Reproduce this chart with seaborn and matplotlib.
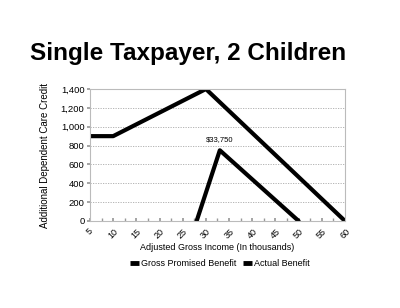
import pandas as pd
import numpy as np
import matplotlib
matplotlib.use("Agg")
import matplotlib.pyplot as plt
import seaborn as sns
from matplotlib.ticker import MultipleLocator, FuncFormatter
from matplotlib.lines import Line2D

# data (income in thousands, credit in dollars)
gross_x = [5, 10, 30, 60]
gross_y = [900, 900, 1400, 0]
actual_x = [28, 33, 50]
actual_y = [0, 750, 0]
peak_label = "$33,750"

df = pd.concat([
    pd.DataFrame({"income": gross_x, "credit": gross_y, "series": "Gross Promised Benefit"}),
    pd.DataFrame({"income": actual_x, "credit": actual_y, "series": "Actual Benefit"}),
])

sns.set_theme(style="white")
plt.rcParams['font.family'] = ['Liberation Sans', 'DejaVu Sans']
plt.rcParams['text.color'] = 'black'
plt.rcParams['axes.labelcolor'] = 'black'
plt.rcParams['xtick.color'] = 'black'
plt.rcParams['ytick.color'] = 'black'

fig = plt.figure(figsize=(4, 3.08), dpi=100)
ax = fig.add_axes([0.225, 0.2825, 0.6375, 0.4285])

sns.lineplot(data=df, x="income", y="credit", hue="series",
             palette=["black", "black"], linewidth=3.0, ax=ax,
             legend=False, sort=False)

ax.set_xlim(5, 60)
ax.set_ylim(0, 1400)
ax.xaxis.set_major_locator(MultipleLocator(5))
ax.xaxis.set_minor_locator(MultipleLocator(2.5))
ax.yaxis.set_major_locator(MultipleLocator(200))
ax.yaxis.set_major_formatter(FuncFormatter(lambda v, p: f"{int(v):,}"))
ax.tick_params(axis="x", which="both", direction="in", length=2, labelsize=6.5,
               labelrotation=45, color="#999999", bottom=True, pad=4)
ax.tick_params(axis="y", labelsize=6.8, length=2, color="#999999", left=True, pad=2)
ax.yaxis.grid(True, linestyle=(0, (1.5, 1.5)), color="#aaaaaa", linewidth=0.6)
for s in ax.spines.values():
    s.set_color("#bbbbbb")
    s.set_linewidth(0.8)

ax.set_xlabel("Adjusted Gross Income (In thousands)", fontsize=6.5, labelpad=2)
ax.set_ylabel("Additional Dependent Care Credit", fontsize=7, labelpad=8)

ax.annotate(peak_label, (actual_x[1], actual_y[1]), xytext=(0, 5),
            textcoords="offset points", ha="center", va="bottom", fontsize=5.5)

fig.text(0.47, 0.825, "Single Taxpayer, 2 Children", ha="center", va="center",
         fontsize=17.5, fontweight="bold")

handles = [Line2D([0], [0], color="black", lw=3.5, solid_capstyle="butt"),
           Line2D([0], [0], color="black", lw=3.5, solid_capstyle="butt")]
fig.legend(handles, ["Gross Promised Benefit", "Actual Benefit"],
           loc="center", bbox_to_anchor=(0.55, 0.145), ncol=2, frameon=False,
           fontsize=6.5, handlelength=1.0, handletextpad=0.2, columnspacing=0.8)

fig.savefig("out.png", dpi=100, facecolor="white")
